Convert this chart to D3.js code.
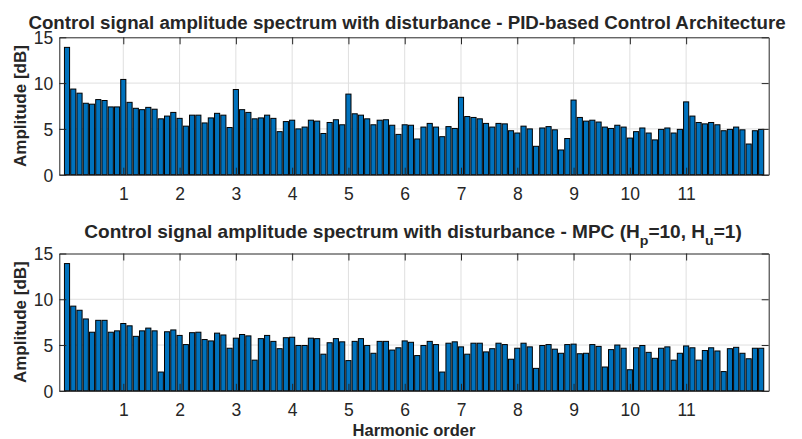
<!DOCTYPE html>
<html>
<head>
<meta charset="utf-8">
<script src="https://cdn.jsdelivr.net/npm/d3@7"></script>
<style>
  body { margin: 0; background: #fff; }
  text { font-family: "Liberation Sans", Arial, sans-serif; fill: #262626; }
</style>
</head>
<body>
<div id="chart"></div>
<script>
var chart_width = 802;
var chart_height = 439;

// spectrum bins, 9 bins per harmonic
var bins_per_harmonic = 9;
var harmonic_ticks = [1, 2, 3, 4, 5, 6, 7, 8, 9, 10, 11];
var amp_ticks = [0, 5, 10, 15];

var pid_amp = [
  13.9, 9.35, 8.9, 7.8, 7.7, 8.2, 8.1, 7.4, 7.4, 10.4,
  7.9, 7.25, 7.1, 7.35, 7.15, 6.1, 6.4, 6.8, 6.15, 5.3,
  6.5, 6.5, 5.65, 6.2, 6.7, 6.5, 5.15, 9.3, 7.1, 6.8,
  6.1, 6.2, 6.5, 6.15, 4.7, 5.8, 5.95, 5.0, 5.2, 5.95,
  5.85, 4.5, 5.7, 6.0, 5.45, 8.8, 6.65, 6.5, 6.1, 5.45,
  5.95, 6.0, 5.4, 4.4, 5.45, 5.4, 3.9, 5.2, 5.6, 5.2,
  4.15, 5.25, 5.05, 8.45, 6.35, 6.25, 6.1, 5.6, 5.2, 5.6,
  5.55, 4.8, 4.55, 5.3, 5.0, 3.1, 5.1, 5.25, 4.9, 2.7,
  3.95, 8.15, 6.25, 5.85, 5.95, 5.75, 5.2, 5.05, 5.4, 5.2,
  4.0, 4.7, 5.1, 4.55, 3.8, 4.95, 5.1, 4.55, 4.95, 7.95,
  6.4, 5.7, 5.55, 5.7, 5.45, 4.8, 4.95, 5.2, 4.9, 3.35,
  4.8, 4.95
];

var mpc_amp = [
  13.9, 9.25, 8.8, 7.85, 6.4, 7.7, 7.7, 6.4, 6.55, 7.35,
  7.1, 5.95, 6.55, 6.85, 6.55, 2.05, 6.45, 6.65, 6.05, 5.05,
  6.35, 6.4, 5.6, 5.45, 6.3, 6.1, 4.65, 5.75, 6.15, 6.0,
  3.35, 5.7, 6.05, 5.4, 4.6, 5.8, 5.85, 4.95, 4.95, 5.75,
  5.7, 4.0, 5.25, 5.7, 5.35, 3.3, 5.4, 5.7, 4.95, 4.1,
  5.4, 5.4, 4.45, 4.7, 5.45, 5.3, 3.85, 4.95, 5.4, 5.05,
  2.05, 5.2, 5.35, 4.8, 4.0, 5.2, 5.2, 4.25, 4.6, 5.2,
  5.05, 3.45, 4.65, 5.2, 4.8, 2.45, 4.95, 5.05, 4.55, 4.1,
  5.05, 5.1, 4.05, 4.1, 5.05, 4.85, 2.6, 4.5, 5.0, 4.65,
  2.3, 4.7, 4.95, 4.2, 3.55, 4.65, 4.8, 3.35, 4.1, 4.9,
  4.7, 3.35, 4.4, 4.7, 4.35, 2.1, 4.6, 4.75, 4.1, 3.5,
  4.65, 4.65
];

var svg = d3.select('#chart')
            .append('svg')
            .attr('width', chart_width)
            .attr('height', chart_height);

var x_left = 59.3, x_right = 768.7;

//x in harmonic order, axis runs a bit past the first and last bin
var x_scale = d3.scaleLinear()
                .domain([-0.137, 12.467])
                .range([x_left, x_right]);

var bin_step = x_scale(1 / bins_per_harmonic) - x_scale(0);
var bar_w = bin_step * 0.82;

// squeeze a text node horizontally so it spans the wanted width
function fitWidth(node, cx, y, width) {
    var w = node.node().getBBox().width;
    node.attr('text-anchor', 'middle')
        .attr('transform', 'translate(' + cx + ',' + y + ') scale(' + (width / w) + ',1)');
}

function drawPanel(values, top, bottom, title_fn) {
    var y_scale = d3.scaleLinear()
                    .domain([0, 15])
                    .range([bottom, top]);

    var g = svg.append('g');

    //grid
    g.selectAll('.vgrid')
        .data(harmonic_ticks)
        .enter()
        .append('line')
        .attr('x1', (d) => x_scale(d)).attr('x2', (d) => x_scale(d))
        .attr('y1', top).attr('y2', bottom)
        .attr('stroke', '#dfdfdf').attr('stroke-width', 1);
    g.selectAll('.hgrid')
        .data(amp_ticks.slice(1, -1))
        .enter()
        .append('line')
        .attr('x1', x_left).attr('x2', x_right)
        .attr('y1', (d) => y_scale(d)).attr('y2', (d) => y_scale(d))
        .attr('stroke', '#dfdfdf').attr('stroke-width', 1);

    //bars
    g.selectAll('rect.bar')
        .data(values)
        .enter()
        .append('rect')
        .attr('class', 'bar')
        .attr('x', (d, i) => x_scale(i / bins_per_harmonic) - bar_w / 2)
        .attr('y', (d) => y_scale(d))
        .attr('width', bar_w)
        .attr('height', (d) => y_scale(0) - y_scale(d))
        .attr('fill', '#0072BD')
        .attr('stroke', '#000')
        .attr('stroke-width', 1);

    //axes, ticks inside on all four sides
    var x_bottom = d3.axisBottom(x_scale).tickValues(harmonic_ticks)
                     .tickSizeInner(-7).tickSizeOuter(0).tickPadding(12.5);
    var x_top = d3.axisTop(x_scale).tickValues(harmonic_ticks)
                  .tickSizeInner(-7).tickSizeOuter(0).tickFormat('');
    var y_left = d3.axisLeft(y_scale).tickValues(amp_ticks)
                   .tickSizeInner(-7).tickSizeOuter(0).tickPadding(6);
    var y_right = d3.axisRight(y_scale).tickValues(amp_ticks)
                    .tickSizeInner(-7).tickSizeOuter(0).tickFormat('');

    var axes = [
        g.append('g').attr('transform', 'translate(0,' + bottom + ')').call(x_bottom),
        g.append('g').attr('transform', 'translate(0,' + top + ')').call(x_top),
        g.append('g').attr('transform', 'translate(' + x_left + ',0)').call(y_left),
        g.append('g').attr('transform', 'translate(' + x_right + ',0)').call(y_right)
    ];
    axes.forEach((a) => {
        a.select('.domain').attr('stroke', '#262626');
        a.selectAll('.tick line').attr('stroke', '#262626');
        a.selectAll('.tick text')
            .attr('font-family', '"Liberation Sans", Arial, sans-serif')
            .attr('font-size', 17.5)
            .attr('fill', '#262626');
    });
    axes[0].selectAll('.tick text').attr('dy', '0.72em');
    axes[2].selectAll('.tick text').attr('dy', '0.36em');

    //y label
    svg.append('text')
        .attr('transform', 'translate(26,' + ((top + bottom) / 2) + ') rotate(-90)')
        .attr('text-anchor', 'middle')
        .attr('font-size', 17)
        .attr('font-weight', 'bold')
        .text('Amplitude [dB]');

    title_fn();
}

drawPanel(pid_amp, 37.3, 174.7, () => {
    var t = svg.append('text')
               .attr('font-size', 17.5)
               .attr('font-weight', 'bold')
               .text('Control signal amplitude spectrum with disturbance - PID-based Control Architecture');
    fitWidth(t, 407, 29.3, 758);
});

drawPanel(mpc_amp, 253.5, 390.8, () => {
    var t = svg.append('text')
               .attr('font-size', 17.5)
               .attr('font-weight', 'bold');
    t.append('tspan').text('Control signal amplitude spectrum with disturbance - MPC (H');
    t.append('tspan').attr('font-size', 13).attr('dy', 7).text('p');
    t.append('tspan').attr('dy', -7).text('=10, H');
    t.append('tspan').attr('font-size', 13).attr('dy', 7).text('u');
    t.append('tspan').attr('dy', -7).text('=1)');
    fitWidth(t, 413, 238, 658);
});

//x label
svg.append('text')
    .attr('x', (x_left + x_right) / 2)
    .attr('y', 436)
    .attr('text-anchor', 'middle')
    .attr('font-size', 16.5)
    .attr('font-weight', 'bold')
    .text('Harmonic order');
</script>
</body>
</html>
